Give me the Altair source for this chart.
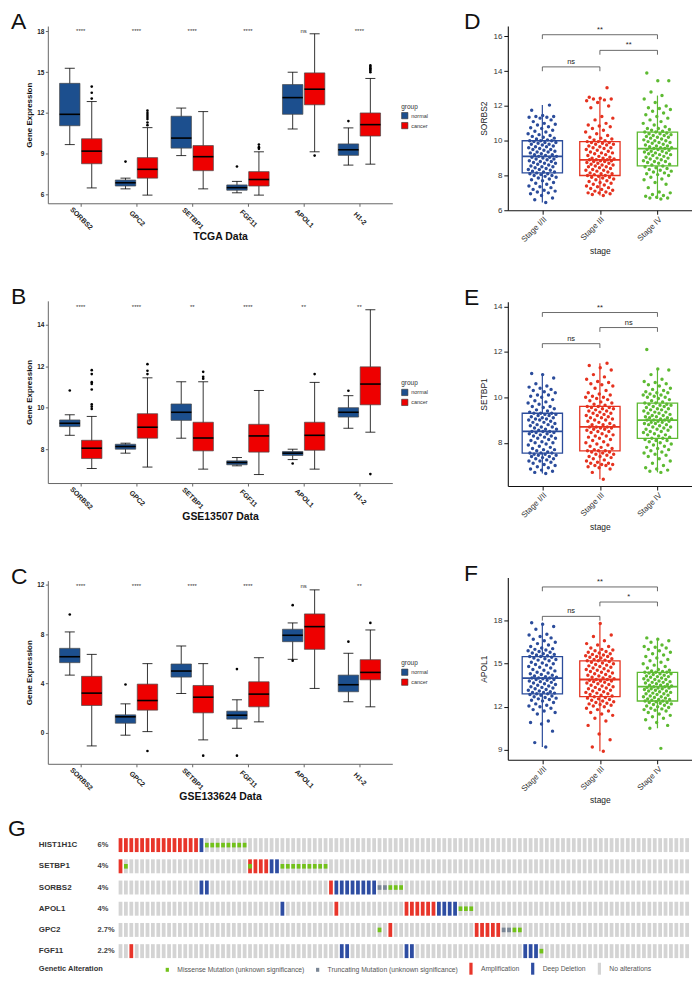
import altair as alt
import pandas as pd

FONT = "Liberation Sans"

# ---------------- Panels A-C : normal vs cancer expression ----------------
GENES = ["SORBS2", "GPC2", "SETBP1", "FGF11", "APOL1", "H1-2"]
GROUPS = ["normal", "cancer"]
GROUP_COLORS = ["#1C4F8E", "#EE0000"]

# (lower whisker, q1, median, q3, upper whisker) for each gene
A_NORMAL_BOX = [(9.67, 11.06, 11.9, 14.18, 15.29), (6.41, 6.62, 6.86, 7.06, 7.2),
                (8.86, 9.41, 10.15, 11.76, 12.36), (6.12, 6.31, 6.5, 6.7, 6.96),
                (10.82, 11.9, 13.13, 14.09, 15.0), (8.16, 8.88, 9.29, 9.72, 10.9)]
A_CANCER_BOX = [(6.48, 8.26, 9.19, 10.1, 12.84), (5.95, 7.2, 7.85, 8.71, 10.92),
                (6.41, 7.75, 8.78, 9.6, 12.1), (5.95, 6.62, 7.1, 7.68, 9.14),
                (9.14, 12.6, 13.75, 14.95, 17.83), (8.23, 10.3, 11.14, 12.0, 14.54)]
A_NORMAL_OUT = [[], [8.42], [], [8.06], [], [11.4]]
A_CANCER_OUT = [[13.94, 13.49, 13.06], [12.17, 12.0, 11.85, 11.7, 11.55, 11.3, 11.1], [],
                [9.67, 9.48, 9.36], [8.86], [15.5, 15.4, 15.3, 15.2, 15.1, 15.0]]
A_SIG = ["****", "****", "****", "****", "ns", "****"]

B_NORMAL_BOX = [(8.67, 9.09, 9.25, 9.41, 9.66), (7.81, 8.0, 8.13, 8.24, 8.29),
                (8.53, 9.39, 9.78, 10.18, 11.25), (7.2, 7.25, 7.36, 7.44, 7.6),
                (7.5, 7.7, 7.81, 7.89, 8.0), (9.01, 9.55, 9.78, 10.0, 10.58)]
B_CANCER_BOX = [(7.07, 7.55, 8.05, 8.43, 9.58), (7.14, 8.53, 9.06, 9.71, 11.44),
                (7.04, 7.92, 8.54, 9.3, 11.25), (6.78, 7.86, 8.64, 9.2, 10.83),
                (7.04, 7.95, 8.67, 9.3, 11.22), (8.82, 10.14, 11.14, 11.97, 14.72)]
B_NORMAL_OUT = [[10.83], [], [], [], [7.31], [10.82]]
B_CANCER_OUT = [[11.81, 11.62, 11.23, 11.14, 10.88, 10.16, 10.05, 9.94], [12.1, 11.78, 11.62],
                [11.73, 11.49, 11.4], [], [11.62], [6.8]]
B_SIG = ["****", "****", "**", "****", "**", "**"]

C_NORMAL_BOX = [(4.69, 5.7, 6.18, 6.86, 8.19), (-0.18, 0.79, 1.31, 1.47, 2.36),
                (3.2, 4.53, 5.02, 5.59, 7.05), (0.38, 1.12, 1.44, 1.77, 2.69),
                (5.97, 7.4, 7.92, 8.41, 8.92), (2.53, 3.34, 3.91, 4.69, 6.46)]
C_CANCER_BOX = [(-1.05, 2.23, 3.23, 4.59, 6.37), (0.11, 1.85, 2.63, 3.96, 5.62),
                (-0.56, 1.63, 2.9, 3.85, 5.62), (0.9, 2.12, 3.15, 4.15, 6.1),
                (3.61, 6.78, 8.62, 9.65, 11.6), (2.12, 4.31, 4.91, 5.94, 8.35)]
C_NORMAL_OUT = [[9.6], [3.93], [], [5.18, -1.84], [10.36, 5.86], [7.4]]
C_CANCER_OUT = [[], [-1.46], [-1.84], [], [], [8.92]]
C_SIG = ["****", "****", "****", "****", "ns", "**"]

# ---------------- Panels D-F : expression by stage ----------------
STAGES = ["Stage I/II", "Stage III", "Stage IV"]
STAGE_COLORS = ["#2B4C9B", "#E5321F", "#5DBA32"]

D_BOX = [(6.45, 8.15, 9.1, 10.0, 12.05), (6.85, 8.0, 8.9, 9.95, 12.4), (6.65, 8.55, 9.55, 10.5, 12.6)]
E_BOX = [(6.65, 7.55, 8.5, 9.3, 11.05), (6.4, 7.65, 8.7, 9.6, 11.5), (6.7, 8.2, 9.0, 9.75, 11.25)]
F_BOX = [(9.2, 12.9, 14.0, 15.5, 17.85), (8.9, 12.7, 13.9, 15.2, 17.8), (10.5, 12.4, 13.4, 14.4, 16.8)]

D_STAGE_I = [6.45, 6.6, 6.7, 6.85, 6.95, 7.0, 7.05, 7.1, 7.15, 7.2, 7.3, 7.35, 7.4, 7.5, 7.55, 7.6, 7.7, 7.75, 7.8, 7.85, 7.9, 7.95, 8.0, 8.0, 8.05, 8.1, 8.1,
             8.15, 8.2, 8.2, 8.25, 8.3, 8.35, 8.35, 8.4, 8.45, 8.5, 8.5, 8.55, 8.6, 8.65, 8.7, 8.7, 8.75, 8.8, 8.8, 8.85, 8.9, 8.95, 8.95, 9.0, 9.05, 9.05, 9.1,
             9.1, 9.15, 9.2, 9.2, 9.25, 9.3, 9.35, 9.35, 9.4, 9.45, 9.5, 9.5, 9.55, 9.6, 9.65, 9.65, 9.7, 9.75, 9.8, 9.8, 9.85, 9.9, 9.9, 9.95, 10.0, 10.0, 10.0,
             10.05, 10.1, 10.15, 10.2, 10.25, 10.3, 10.35, 10.4, 10.5, 10.55, 10.6, 10.7, 10.75, 10.8, 10.9, 10.95, 11.0, 11.1, 11.2, 11.3, 11.35, 11.35, 11.4, 11.4, 11.45, 11.75, 12.05]
D_STAGE_III = [6.85, 6.9, 6.95, 7.0, 7.0, 7.05, 7.1, 7.15, 7.2, 7.25, 7.3, 7.35, 7.4, 7.45, 7.5, 7.55, 7.6, 7.65, 7.7, 7.75, 7.8, 7.85, 7.9, 7.9, 7.95, 8.0, 8.0,
               8.05, 8.1, 8.1, 8.15, 8.2, 8.25, 8.3, 8.3, 8.35, 8.4, 8.45, 8.5, 8.5, 8.55, 8.6, 8.6, 8.65, 8.7, 8.7, 8.75, 8.8, 8.8, 8.85, 8.85, 8.9, 8.9, 8.9,
               8.95, 9.0, 9.0, 9.05, 9.1, 9.15, 9.2, 9.25, 9.3, 9.3, 9.35, 9.4, 9.45, 9.5, 9.55, 9.6, 9.6, 9.65, 9.7, 9.75, 9.8, 9.8, 9.85, 9.9, 9.9, 9.95, 9.95,
               10.0, 10.05, 10.1, 10.15, 10.2, 10.3, 10.4, 10.5, 10.6, 10.7, 10.8, 10.85, 10.9, 11.0, 11.2, 11.3, 11.4, 11.9, 12.0, 12.2, 12.3, 12.35, 12.4, 12.4, 12.45, 12.5, 13.05]
D_STAGE_IV = [6.65, 6.7, 6.7, 6.75, 6.8, 6.85, 6.9, 7.0, 7.05, 7.3, 7.5, 7.6, 7.75, 7.8, 7.9, 8.0, 8.05, 8.1, 8.15, 8.2, 8.25, 8.3, 8.35, 8.4, 8.45, 8.5, 8.55,
              8.6, 8.65, 8.7, 8.75, 8.8, 8.8, 8.85, 8.9, 8.95, 9.0, 9.0, 9.05, 9.1, 9.15, 9.2, 9.2, 9.25, 9.3, 9.3, 9.35, 9.4, 9.4, 9.45, 9.5, 9.5, 9.55, 9.55,
              9.6, 9.6, 9.65, 9.7, 9.7, 9.75, 9.8, 9.85, 9.9, 9.9, 9.95, 10.0, 10.0, 10.05, 10.1, 10.15, 10.2, 10.2, 10.25, 10.3, 10.3, 10.35, 10.4, 10.4, 10.45, 10.5, 10.5,
              10.55, 10.6, 10.65, 10.7, 10.7, 10.8, 10.9, 11.0, 11.1, 11.2, 11.3, 11.4, 11.5, 11.6, 11.7, 11.8, 11.85, 11.9, 12.0, 12.2, 12.4, 12.6, 12.8, 13.45, 13.45, 13.9]

E_STAGE_I = [6.65, 6.7, 6.75, 6.8, 6.85, 6.9, 6.95, 7.0, 7.05, 7.1, 7.15, 7.2, 7.2, 7.25, 7.3, 7.3, 7.35, 7.4, 7.4, 7.45, 7.45, 7.5, 7.5, 7.55, 7.55, 7.55,
             7.6, 7.65, 7.7, 7.7, 7.75, 7.8, 7.85, 7.9, 7.95, 8.0, 8.0, 8.05, 8.1, 8.15, 8.2, 8.2, 8.25, 8.3, 8.3, 8.35, 8.4, 8.4, 8.45, 8.45, 8.5, 8.5, 8.5,
             8.55, 8.6, 8.6, 8.65, 8.7, 8.7, 8.75, 8.8, 8.8, 8.85, 8.9, 8.9, 8.95, 9.0, 9.0, 9.05, 9.05, 9.1, 9.1, 9.15, 9.2, 9.2, 9.25, 9.25, 9.3, 9.3, 9.3,
             9.35, 9.4, 9.45, 9.5, 9.55, 9.6, 9.6, 9.7, 9.75, 9.8, 9.85, 9.9, 10.0, 10.05, 10.1, 10.1, 10.2, 10.25, 10.3, 10.35, 10.4, 10.45, 10.5, 10.6, 10.85, 11.0, 11.05]
E_STAGE_III = [6.4, 6.7, 6.85, 6.9, 6.95, 7.0, 7.0, 7.05, 7.05, 7.1, 7.1, 7.15, 7.2, 7.25, 7.3, 7.35, 7.4, 7.4, 7.45, 7.5, 7.5, 7.55, 7.6, 7.6, 7.65, 7.65, 7.65,
               7.7, 7.75, 7.8, 7.85, 7.9, 7.95, 8.0, 8.05, 8.1, 8.15, 8.2, 8.25, 8.3, 8.3, 8.35, 8.4, 8.45, 8.5, 8.5, 8.55, 8.6, 8.6, 8.65, 8.65, 8.7, 8.7, 8.7,
               8.75, 8.8, 8.8, 8.85, 8.9, 8.95, 9.0, 9.0, 9.05, 9.1, 9.1, 9.15, 9.2, 9.2, 9.25, 9.3, 9.3, 9.35, 9.4, 9.4, 9.45, 9.5, 9.5, 9.55, 9.55, 9.6, 9.6,
               9.65, 9.7, 9.75, 9.8, 9.85, 9.9, 9.95, 10.0, 10.0, 10.05, 10.1, 10.15, 10.2, 10.3, 10.4, 10.5, 10.55, 10.6, 10.65, 10.7, 10.8, 10.9, 11.0, 11.2, 11.3, 11.4, 11.5]
E_STAGE_IV = [6.7, 6.75, 6.8, 6.85, 6.9, 7.0, 7.1, 7.2, 7.3, 7.4, 7.45, 7.5, 7.55, 7.6, 7.65, 7.7, 7.75, 7.8, 7.85, 7.9, 7.95, 8.0, 8.05, 8.1, 8.1, 8.15, 8.2,
              8.2, 8.25, 8.3, 8.35, 8.35, 8.4, 8.45, 8.5, 8.5, 8.55, 8.6, 8.6, 8.65, 8.7, 8.7, 8.75, 8.8, 8.8, 8.85, 8.85, 8.9, 8.9, 8.95, 8.95, 9.0, 9.0, 9.0,
              9.05, 9.05, 9.1, 9.1, 9.15, 9.15, 9.2, 9.2, 9.25, 9.3, 9.3, 9.35, 9.35, 9.4, 9.45, 9.45, 9.5, 9.5, 9.55, 9.6, 9.6, 9.65, 9.65, 9.7, 9.7, 9.75, 9.75,
              9.8, 9.85, 9.9, 9.95, 10.0, 10.0, 10.05, 10.1, 10.1, 10.15, 10.2, 10.2, 10.25, 10.3, 10.35, 10.4, 10.5, 10.55, 10.6, 10.65, 10.7, 10.8, 11.0, 11.2, 11.25, 12.1]

F_STAGE_I = [9.2, 9.5, 10.3, 10.8, 10.9, 11.0, 11.5, 11.6, 11.7, 11.8, 11.9, 12.0, 12.05, 12.1, 12.2, 12.3, 12.4, 12.45, 12.5, 12.55, 12.6, 12.65, 12.7, 12.75, 12.8, 12.85, 12.9,
             12.9, 12.95, 13.0, 13.0, 13.05, 13.1, 13.15, 13.2, 13.25, 13.3, 13.35, 13.4, 13.45, 13.5, 13.55, 13.6, 13.65, 13.7, 13.75, 13.8, 13.85, 13.9, 13.9, 13.95, 14.0, 14.0, 14.0,
             14.05, 14.1, 14.15, 14.2, 14.25, 14.3, 14.35, 14.4, 14.5, 14.55, 14.6, 14.7, 14.75, 14.8, 14.9, 14.95, 15.0, 15.05, 15.1, 15.2, 15.25, 15.3, 15.35, 15.4, 15.45, 15.5, 15.5,
             15.55, 15.6, 15.65, 15.7, 15.75, 15.8, 15.85, 15.9, 15.95, 16.0, 16.05, 16.1, 16.2, 16.3, 16.4, 16.5, 16.6, 16.7, 16.8, 16.9, 17.0, 17.05, 17.4, 17.6, 17.75, 17.85]
F_STAGE_III = [8.9, 9.2, 9.7, 10.1, 10.7, 11.0, 11.2, 11.4, 11.5, 11.6, 11.7, 11.8, 11.9, 12.0, 12.05, 12.1, 12.15, 12.2, 12.25, 12.3, 12.35, 12.4, 12.45, 12.5, 12.55, 12.6, 12.65,
               12.7, 12.75, 12.8, 12.85, 12.9, 12.95, 13.0, 13.05, 13.1, 13.15, 13.2, 13.25, 13.3, 13.35, 13.4, 13.45, 13.5, 13.55, 13.6, 13.65, 13.7, 13.75, 13.8, 13.8, 13.85, 13.9, 13.9,
               13.95, 14.0, 14.05, 14.1, 14.15, 14.2, 14.25, 14.3, 14.35, 14.4, 14.45, 14.5, 14.55, 14.6, 14.65, 14.7, 14.75, 14.8, 14.85, 14.9, 14.95, 15.0, 15.05, 15.1, 15.15, 15.2, 15.2,
               15.25, 15.3, 15.35, 15.4, 15.45, 15.5, 15.5, 15.55, 15.6, 15.65, 15.7, 15.75, 15.8, 15.85, 15.9, 15.95, 16.0, 16.1, 16.2, 16.3, 16.4, 16.6, 16.9, 17.0, 17.8]
F_STAGE_IV = [9.1, 10.5, 10.7, 10.9, 11.1, 11.2, 11.3, 11.4, 11.5, 11.6, 11.7, 11.75, 11.8, 11.85, 11.9, 11.95, 12.0, 12.05, 12.1, 12.15, 12.2, 12.25, 12.3, 12.3, 12.35, 12.4, 12.4,
              12.45, 12.5, 12.5, 12.55, 12.6, 12.65, 12.7, 12.7, 12.75, 12.8, 12.85, 12.9, 12.9, 12.95, 13.0, 13.05, 13.1, 13.1, 13.15, 13.2, 13.25, 13.25, 13.3, 13.3, 13.35, 13.4, 13.4,
              13.45, 13.5, 13.5, 13.55, 13.6, 13.65, 13.7, 13.7, 13.75, 13.8, 13.85, 13.9, 13.9, 13.95, 14.0, 14.05, 14.1, 14.1, 14.15, 14.2, 14.25, 14.3, 14.3, 14.35, 14.4, 14.4, 14.4,
              14.45, 14.5, 14.55, 14.6, 14.7, 14.8, 14.9, 15.0, 15.1, 15.2, 15.3, 15.4, 15.5, 15.6, 15.7, 15.8, 15.9, 16.0, 16.1, 16.15, 16.2, 16.3, 16.5, 16.6, 16.7, 16.8]

# significance brackets: (from stage #, to stage #, level, label)
D_BRACKETS = [(1, 2, 14.25, "ns"), (2, 3, 15.2, "**"), (1, 3, 16.1, "**")]
E_BRACKETS = [(1, 2, 12.36, "ns"), (2, 3, 13.07, "ns"), (1, 3, 13.73, "**")]
F_BRACKETS = [(1, 2, 18.3, "ns"), (2, 3, 19.3, "*"), (1, 3, 20.35, "**")]

# ---------------- Panel G : oncoprint ----------------
ONCO_GENES = ["HIST1H1C", "SETBP1", "SORBS2", "APOL1", "GPC2", "FGF11"]
ONCO_PCT = ["6%", "4%", "4%", "4%", "2.7%", "2.2%"]
N_SAMPLES = 106
ONCO_AMP = [[0, 1, 2, 3, 4, 5, 6, 7, 8, 9, 10, 11, 12, 13, 14], [0, 24, 25, 26, 27], [39],
            [40, 53, 54, 55, 56, 57, 58], [50, 66, 67, 68, 69, 70], [2]]
ONCO_DEL = [[15], [28, 29], [15, 16, 40, 41, 42, 43, 44, 45, 46, 47], [30, 59, 60, 61, 62], [],
            [41, 42, 53, 54, 75, 76, 77]]
ONCO_MISSENSE = [[16, 17, 18, 19, 20, 21, 22, 23], [1, 24, 30, 31, 32, 33, 34, 35, 36, 37, 38],
                 [50, 51, 52], [63, 64, 65], [48, 73, 74], [78]]
ONCO_TRUNC = [[], [], [48, 49], [], [71, 72], []]
ALTERATIONS = ["Missense Mutation (unknown significance)", "Truncating Mutation (unknown significance)",
               "Amplification", "Deep Deletion", "No alterations"]
ALT_COLORS = ["#72C21A", "#7A8695", "#E8352A", "#2E4DA2", "#D4D4D4"]


def names_expr(names):
    return "[" + ",".join("'" + n + "'" for n in names) + "][datum.value - 1]"


def letter_title(letter, dx, offset=-8):
    return alt.TitleParams(letter, anchor="start", frame="group", dx=dx, fontSize=23, font=FONT,
                           fontWeight="normal", color="#111", offset=offset)


def expr_panel(letter, xtitle, nbox, cbox, nout, cout, sig, ydom, yticks, sig_y, legend_y, height):
    W = 346
    HALF, OFF, CAP = 0.183, 0.197, 0.09
    rows, orows = [], []
    for i, g in enumerate(GENES):
        for grp, b, outs in (("normal", nbox[i], nout[i]), ("cancer", cbox[i], cout[i])):
            rows.append({"gene": g, "gi": i + 1, "group": grp, "lo": b[0], "q1": b[1],
                         "med": b[2], "q3": b[3], "hi": b[4]})
            for v in outs:
                orows.append({"gene": g, "gi": i + 1, "group": grp, "v": v})
    bdf = pd.DataFrame(rows)
    odf = pd.DataFrame(orows)
    sdf = pd.DataFrame({"gene": GENES, "gi": list(range(1, len(GENES) + 1)), "sig": sig})

    xsc = alt.Scale(domain=[0.409, 6.591], nice=False, zero=False)
    ysc = alt.Scale(domain=ydom, nice=False, zero=False)
    xax = alt.Axis(values=list(range(1, 7)), labelExpr=names_expr(GENES), labelAngle=45,
                   labelAlign="center", labelBaseline="middle", labelPadding=12, labelFont=FONT,
                   labelFontWeight="bold", labelFontSize=7, labelColor="#222", tickColor="#666",
                   domainColor="#666", tickSize=3, grid=False, title=xtitle, titleFont=FONT,
                   titleFontSize=10.5, titleFontWeight="bold", titleColor="#111", titlePadding=1,
                   labelOverlap=False)
    yax = alt.Axis(values=yticks, labelFont=FONT, labelFontWeight="bold", labelFontSize=6.5,
                   labelColor="#222", tickColor="#666", domainColor="#666", tickSize=2.5,
                   labelPadding=1.5, grid=False, title="Gene Expression", titleFont=FONT,
                   titleFontSize=8, titleFontWeight="bold", titleColor="#111", titlePadding=3)

    def X(f):
        return alt.X(f, scale=xsc, axis=xax)

    def Y(f):
        return alt.Y(f, scale=ysc, axis=yax)

    pos = f"datum.gi + (datum.group == 'normal' ? {-OFF} : {OFF})"
    base = (alt.Chart(bdf).transform_calculate(p=pos)
            .transform_calculate(l=f"datum.p - {HALF}", r=f"datum.p + {HALF}",
                                 cl=f"datum.p - {CAP}", cr=f"datum.p + {CAP}"))
    whisk = base.mark_rule(color="black", strokeWidth=0.8).encode(x=X("p:Q"), y=Y("lo:Q"), y2="hi:Q")
    cap_hi = base.mark_rule(color="black", strokeWidth=0.8).encode(x=X("cl:Q"), x2="cr:Q", y=Y("hi:Q"))
    cap_lo = base.mark_rule(color="black", strokeWidth=0.8).encode(x=X("cl:Q"), x2="cr:Q", y=Y("lo:Q"))
    leg = alt.Legend(title="group", orient="none", legendX=W + 9, legendY=legend_y, titleFont=FONT,
                     titleFontSize=6.5, titleFontWeight="normal", titleColor="#333", labelFont=FONT,
                     labelFontSize=5.5, labelColor="#333", symbolType="square", symbolSize=40,
                     symbolStrokeColor="#333", symbolStrokeWidth=0.6, rowPadding=1, labelOffset=3,
                     titlePadding=2)
    box = base.mark_rect(stroke="#4a4a4a", strokeWidth=0.7).encode(
        x=X("l:Q"), x2="r:Q", y=Y("q1:Q"), y2="q3:Q",
        color=alt.Color("group:N", scale=alt.Scale(domain=GROUPS, range=GROUP_COLORS), legend=leg))
    med = base.mark_rule(color="black", strokeWidth=1.6).encode(x=X("l:Q"), x2="r:Q", y=Y("med:Q"))
    outs = (alt.Chart(odf).transform_calculate(p=pos)
            .mark_circle(color="black", size=7, opacity=1).encode(x=X("p:Q"), y=Y("v:Q")))
    stars = alt.Chart(sdf).mark_text(font=FONT, fontSize=6, color="#333").encode(
        x=X("gi:Q"), y=alt.datum(sig_y), text="sig:N")
    return alt.layer(whisk, cap_hi, cap_lo, box, med, outs, stars).properties(
        width=W, height=height, title=letter_title(letter, -37))


def stage_panel(letter, ylabel, vals, boxes, brackets, ydom, yticks, tick_len, height):
    W = 185
    HALF = 0.35
    prow = []
    for i, (st, vs) in enumerate(zip(STAGES, vals)):
        for v in vs:
            prow.append({"stage": st, "si": i + 1, "v": v})
    pdf = pd.DataFrame(prow)
    bdf = pd.DataFrame([{"stage": st, "si": i + 1, "lo": b[0], "q1": b[1], "med": b[2],
                         "q3": b[3], "hi": b[4]} for i, (st, b) in enumerate(zip(STAGES, boxes))])
    kdf = pd.DataFrame([{"a": a, "b": b, "lev": lev, "lab": lab} for a, b, lev, lab in brackets])

    xsc = alt.Scale(domain=[0.4, 3.6], nice=False, zero=False)
    ysc = alt.Scale(domain=ydom, nice=False, zero=False)
    xax = alt.Axis(values=[1, 2, 3], labelExpr=names_expr(STAGES), labelAngle=-45, labelAlign="right",
                   labelBaseline="top", labelPadding=1, labelFont=FONT, labelFontSize=8,
                   labelColor="#333", tickColor="#111", domainColor="#111", domainWidth=1.1,
                   tickSize=4, grid=False, title="stage", titleFont=FONT, titleFontSize=8.5,
                   titleFontWeight="normal", titleColor="#222", titlePadding=3, labelOverlap=False)
    yax = alt.Axis(values=yticks, labelFont=FONT, labelFontSize=8, labelColor="#333",
                   tickColor="#111", domainColor="#111", domainWidth=1.1, tickSize=4,
                   labelPadding=2, grid=False, title=ylabel, titleFont=FONT, titleFontSize=8.5,
                   titleFontWeight="normal", titleColor="#222", titlePadding=4)

    def X(f):
        return alt.X(f, scale=xsc, axis=xax)

    def Y(f):
        return alt.Y(f, scale=ysc, axis=yax)

    sc = alt.Scale(domain=STAGES, range=STAGE_COLORS)
    col = alt.Color("stage:N", scale=sc, legend=None)
    base = alt.Chart(bdf).transform_calculate(l=f"datum.si - {HALF}", r=f"datum.si + {HALF}")
    whisk = base.mark_rule(strokeWidth=1.2).encode(x=X("si:Q"), y=Y("lo:Q"), y2="hi:Q", color=col)
    box = base.mark_rect(fill="white", strokeWidth=1.3).encode(
        x=X("l:Q"), x2="r:Q", y=Y("q1:Q"), y2="q3:Q",
        stroke=alt.Stroke("stage:N", scale=sc, legend=None))
    pts = (alt.Chart(pdf).transform_window(rn="row_number()", groupby=["stage"])
           .transform_calculate(xj="datum.si + ((datum.rn * 0.6180339887) % 1 - 0.5) * 0.5")
           .mark_circle(size=12, opacity=1).encode(x=X("xj:Q"), y=Y("v:Q"), color=col))
    med = base.mark_rule(strokeWidth=1.8).encode(x=X("l:Q"), x2="r:Q", y=Y("med:Q"), color=col)
    kb = alt.Chart(kdf).transform_calculate(low=f"datum.lev - {tick_len}", mid="(datum.a + datum.b) / 2")
    hline = kb.mark_rule(color="#444", strokeWidth=0.8).encode(x=X("a:Q"), x2="b:Q", y=Y("lev:Q"))
    lt = kb.mark_rule(color="#444", strokeWidth=0.8).encode(x=X("a:Q"), y=Y("lev:Q"), y2="low:Q")
    rt = kb.mark_rule(color="#444", strokeWidth=0.8).encode(x=X("b:Q"), y=Y("lev:Q"), y2="low:Q")
    lab = kb.mark_text(font=FONT, fontSize=7.5, color="#222", baseline="bottom", dy=-1).encode(
        x=X("mid:Q"), y=Y("lev:Q"), text="lab:N")
    return alt.layer(whisk, box, pts, med, hline, lt, rt, lab).properties(
        width=W, height=height, title=letter_title(letter, -44))


def onco_panel():
    # origin of this panel lines up with the plot area of panel A (about x=45 on the page)
    W, H = 646, 127.8
    rows = []
    for gi, g in enumerate(ONCO_GENES):
        for c in range(N_SAMPLES):
            if c in ONCO_AMP[gi]:
                a = ALTERATIONS[2]
            elif c in ONCO_DEL[gi]:
                a = ALTERATIONS[3]
            else:
                a = ALTERATIONS[4]
            rows.append({"gene": g, "col": c, "alt": a})
    for gi, g in enumerate(ONCO_GENES):
        for c in ONCO_MISSENSE[gi]:
            rows.append({"gene": g, "col": c, "alt": ALTERATIONS[0]})
        for c in ONCO_TRUNC[gi]:
            rows.append({"gene": g, "col": c, "alt": ALTERATIONS[1]})
    df = pd.DataFrame(rows)
    bar = "M-0.27,-1H0.27V1H-0.27Z"
    sq = "M-0.27,-0.33H0.27V0.33H-0.27Z"
    shapes = [sq, sq, bar, bar, bar]
    pitch = 5.42
    x0 = 73
    xsc = alt.Scale(domain=[-x0 / pitch, (W - x0) / pitch], nice=False, zero=False)
    ysc = alt.Scale(type="point", padding=0.5)
    leg = alt.Legend(title="Genetic Alteration", orient="none", legendX=-9, legendY=H + 1,
                     direction="horizontal", titleOrient="left", titleFont=FONT, titleFontSize=7.5,
                     titleFontWeight="bold", titleColor="#333", titlePadding=58, labelFont=FONT,
                     labelFontSize=6.8, labelColor="#555", symbolSize=144, columnPadding=7,
                     labelOffset=4, symbolStrokeWidth=0, labelLimit=300)
    cells = alt.Chart(df).mark_point(filled=True, opacity=1, strokeWidth=0, size=196).encode(
        x=alt.X("col:Q", scale=xsc, axis=None),
        y=alt.Y("gene:N", sort=ONCO_GENES, scale=ysc, axis=None),
        color=alt.Color("alt:N", scale=alt.Scale(domain=ALTERATIONS, range=ALT_COLORS), legend=leg),
        shape=alt.Shape("alt:N", scale=alt.Scale(domain=ALTERATIONS, range=shapes), legend=leg))
    ldf = pd.DataFrame({"gene": ONCO_GENES, "pct": ONCO_PCT})
    names = alt.Chart(ldf).mark_text(align="left", font=FONT, fontSize=8, fontWeight="bold",
                                     color="#333").encode(
        x=alt.value(-9), y=alt.Y("gene:N", sort=ONCO_GENES, scale=ysc, axis=None), text="gene:N")
    pcts = alt.Chart(ldf).mark_text(align="left", font=FONT, fontSize=7.5, fontWeight="bold",
                                    color="#444").encode(
        x=alt.value(50), y=alt.Y("gene:N", sort=ONCO_GENES, scale=ysc, axis=None), text="pct:N")
    return alt.layer(cells, names, pcts).properties(width=W, height=H,
                                                    title=letter_title("G", -40, offset=-7))


A = expr_panel("A", "TCGA Data", A_NORMAL_BOX, A_CANCER_BOX, A_NORMAL_OUT, A_CANCER_OUT, A_SIG,
               [5.35, 18.4], [6, 9, 12, 15, 18], 18.07, 78, 178)
B = expr_panel("B", "GSE13507 Data", B_NORMAL_BOX, B_CANCER_BOX, B_NORMAL_OUT, B_CANCER_OUT, B_SIG,
               [6.37, 15.15], [8, 10, 12, 14], 14.85, 80, 183)
C = expr_panel("C", "GSE133624 Data", C_NORMAL_BOX, C_CANCER_BOX, C_NORMAL_OUT, C_CANCER_OUT, C_SIG,
               [-2.5, 12.35], [0, 4, 8, 12], 11.9, 80, 184)

D = stage_panel("D", "SORBS2", [D_STAGE_I, D_STAGE_III, D_STAGE_IV], D_BOX, D_BRACKETS,
                [6.0, 16.6], [6, 8, 10, 12, 14, 16], 0.25, 185)
E = stage_panel("E", "SETBP1", [E_STAGE_I, E_STAGE_III, E_STAGE_IV], E_BOX, E_BRACKETS,
                [6.1, 14.2], [8, 10, 12, 14], 0.19, 185)
F = stage_panel("F", "APOL1", [F_STAGE_I, F_STAGE_III, F_STAGE_IV], F_BOX, F_BRACKETS,
                [8.3, 21.0], [9, 12, 15, 18], 0.3, 183)

G = onco_panel()

left = alt.vconcat(A, B, C, spacing=44).resolve_scale(color="independent")
right = alt.vconcat(D, E, F, spacing=32).resolve_scale(color="independent", stroke="independent")
top = alt.hconcat(left, right, spacing=36).resolve_scale(color="independent", stroke="independent")
chart = (alt.vconcat(top, G, spacing=14)
         .resolve_scale(color="independent", stroke="independent", shape="independent")
         .properties(padding=0, background="white")
         .configure_view(stroke=None))

chart.save("out.html", embed_options={"renderer": "svg", "actions": False})
